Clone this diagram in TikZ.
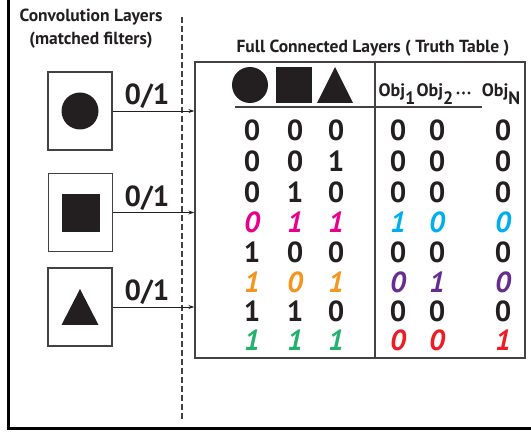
\documentclass[tikz,border=0pt]{standalone}
\usepackage{fontspec}
\setmainfont{PT Sans}
\usetikzlibrary{arrows.meta}
\definecolor{ink}{RGB}{35,31,32}
\definecolor{cmag}{RGB}{232,0,140}
\definecolor{ccyan}{RGB}{0,174,239}
\definecolor{corange}{RGB}{247,148,29}
\definecolor{cpurple}{RGB}{102,45,145}
\definecolor{cgreen}{RGB}{38,176,110}
\definecolor{cred}{RGB}{237,28,36}
\tikzset{
  filbox/.style={draw=ink!85, line width=1.1pt, minimum width=64pt, minimum height=78pt, inner sep=0pt},
  lbl/.style={font=\fontsize{29}{29}\selectfont\bfseries, text=ink, inner sep=0pt},
  dig/.style={font=\fontsize{29}{29}\selectfont\bfseries, text=ink, inner sep=0pt},
  cdig/.style={font=\fontsize{29}{29}\selectfont\bfseries\itshape, inner sep=0pt},
  conn/.style={draw=ink, line width=0.9pt, -{Stealth[length=6pt,width=4pt]}},
  title/.style={font=\fontsize{17.5}{23}\selectfont\bfseries, text=ink, align=center, inner sep=0pt},
  objl/.style={font=\fontsize{18}{18}\selectfont\bfseries, text=ink, inner sep=0pt, anchor=base}
}
\begin{document}
\begin{tikzpicture}[x=1pt,y=-1pt]
\useasboundingbox (0,0) rectangle (531,433);
% outer frame
\draw[line width=3pt, black] (8.5,0) -- (8.5,428.5) -- (531,428.5);
% dashed separator
\draw[ink!85, line width=1.3pt, dash pattern=on 6pt off 3pt] (182,17) -- (182,420);
% titles
\node[title] (ct) at (91,29) {Convolution Layers\\(matched filters)};
\node[title] (ft) at (373,48) {Full Connected Layers ( Truth Table )};
% filter boxes
\node[filbox] (f1) at (80,111) {};
\node[filbox] (f2) at (80.5,212.5) {};
\node[filbox] (f3) at (80,307) {};
\fill[ink] (f1.center) circle (18.5);
\fill[ink] (62,194) rectangle (100,232);
\fill[ink] (61.5,325) -- (80,289) -- (98.5,325) -- cycle;
% truth table
\node[draw=ink!85, line width=1.4pt, minimum width=330pt, minimum height=296pt, inner sep=0pt] (tt) at (360,210) {};
\draw[ink!85, line width=1.2pt] (375,62) -- (375,358);
\draw[ink!85, line width=1.2pt] (235,107) -- (482,107);
% arrows
\draw[conn] (f1.east) -- (f1.east -| tt.west);
\draw[conn] (f2.east) -- (f2.east -| tt.west);
\draw[conn] (f3.east) -- (f3.east -| tt.west);
\node[lbl] (l1) at (147,96) {0/1};
\node[lbl] (l2) at (147,198) {0/1};
\node[lbl] (l3) at (147,292) {0/1};
% header shapes
\fill[ink] (250,85) circle (18);
\fill[ink] (276,67) rectangle (312,103);
\fill[ink] (317,103) -- (335,67) -- (353,103) -- cycle;
% object labels
\node[objl] (o1) at (397,97) {Obj\raisebox{-8pt}{1}};
\node[objl] (o2) at (435,97) {Obj\raisebox{-8pt}{2}};
\node[objl] (on) at (501,97) {Obj\raisebox{-8pt}{N}};
\foreach \xd in {458,463.5,469} \fill[ink] (\xd,93) circle (1.7);
% rows
\foreach \y/\a/\b/\c/\d/\e/\f/\cl/\cr [count=\i] in {
  130/0/0/0/0/0/0/ink/ink,
  161/0/0/1/0/0/0/ink/ink,
  192/0/1/0/0/0/0/ink/ink,
  222/0/1/1/1/0/0/cmag/ccyan,
  252/1/0/0/0/0/0/ink/ink,
  282/1/0/1/0/1/0/corange/cpurple,
  311/1/1/0/0/0/0/ink/ink,
  340/1/1/1/0/0/1/cgreen/cred}{
  \ifnum\i=4 \tikzset{rowst/.style={cdig}}\else\ifnum\i=6 \tikzset{rowst/.style={cdig}}\else\ifnum\i=8 \tikzset{rowst/.style={cdig}}\else\tikzset{rowst/.style={dig}}\fi\fi\fi
  \node[rowst, text=\cl] (r\i a) at (252,\y) {\a};
  \node[rowst, text=\cl] (r\i b) at (295,\y) {\b};
  \node[rowst, text=\cl] (r\i c) at (336,\y) {\c};
  \node[rowst, text=\cr] (r\i d) at (398,\y) {\d};
  \node[rowst, text=\cr] (r\i e) at (437,\y) {\e};
  \node[rowst, text=\cr] (r\i f) at (503,\y) {\f};
}
\end{tikzpicture}
\end{document}
